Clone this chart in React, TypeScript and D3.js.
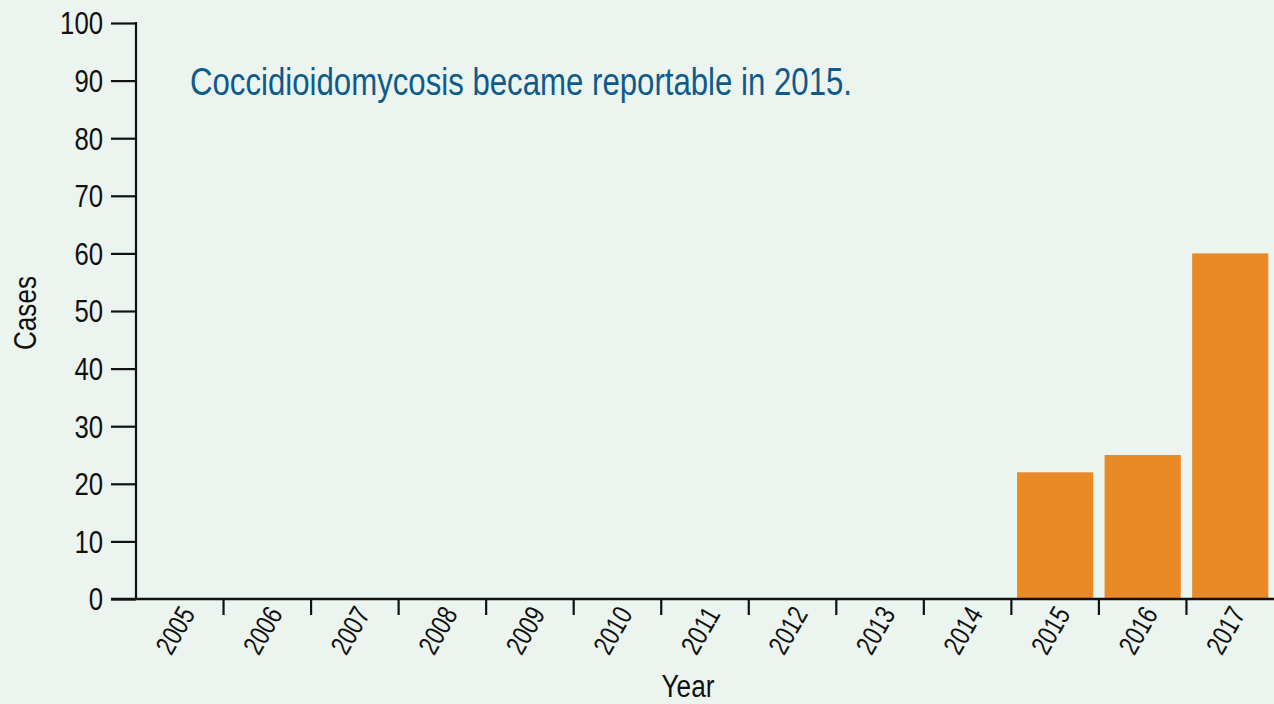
import { useEffect, useRef } from "react";
import * as d3 from "d3";

const years = ["2005", "2006", "2007", "2008", "2009", "2010", "2011", "2012", "2013", "2014", "2015", "2016", "2017"];
const cases = [0, 0, 0, 0, 0, 0, 0, 0, 0, 0, 22, 25, 60];
const yTicks = [0, 10, 20, 30, 40, 50, 60, 70, 80, 90, 100];
const note = "Coccidioidomycosis became reportable in 2015.";

// condensed look: Liberation Sans squeezed with textLength
const FONT = "'Liberation Sans', Arial, sans-serif";

const App = () => {
  const ref = useRef(null);

  useEffect(() => {
    const width = 1274;
    const height = 704;
    const left = 136;
    const top = 23;
    const bottom = 599;

    const root = d3.select(ref.current);
    root.selectAll("*").remove();

    const svg = root
      .append("svg")
      .attr("width", width)
      .attr("height", height)
      .style("display", "block")
      .style("font-family", FONT);

    svg.append("rect").attr("width", width).attr("height", height).attr("fill", "#ebf4ef");

    const x = d3.scaleBand().domain(years).range([left, width]).paddingInner(0.13).paddingOuter(0.065);
    const xb = d3.scaleBand().domain(years).range([left, width]);
    const y = d3.scaleLinear().domain([0, 100]).range([bottom, top]);

    // bars
    svg
      .append("g")
      .selectAll("rect")
      .data(years)
      .join("rect")
      .attr("x", (d) => x(d))
      .attr("width", x.bandwidth())
      .attr("y", (d, i) => y(cases[i]))
      .attr("height", (d, i) => bottom - y(cases[i]))
      .attr("fill", "#e98a26");

    // y axis
    const yAxis = d3.axisLeft(y).tickValues(yTicks).tickSize(25).tickPadding(8);
    const gy = svg.append("g").attr("transform", `translate(${left},0)`).call(yAxis);
    gy.select(".domain").remove();
    gy.selectAll(".tick line").attr("stroke", "#111").attr("stroke-width", 2.2);
    gy.selectAll(".tick text")
      .attr("font-size", 32)
      .attr("font-weight", 500)
      .attr("fill", "#111")
      .attr("font-family", FONT)
      .attr("dy", "0.34em")
      .attr("textLength", (d) => String(d).length * 14.3)
      .attr("lengthAdjust", "spacingAndGlyphs");
    gy.append("line").attr("x1", 0).attr("x2", 0).attr("y1", top - 1).attr("y2", bottom).attr("stroke", "#111").attr("stroke-width", 2.2);

    // x axis
    const gx = svg.append("g").attr("transform", `translate(0,${bottom})`);
    gx.append("line").attr("x1", 111).attr("x2", width).attr("stroke", "#111").attr("stroke-width", 2.6);
    gx.selectAll("line.bt")
      .data(years.slice(1))
      .join("line")
      .attr("class", "bt")
      .attr("x1", (d) => xb(d))
      .attr("x2", (d) => xb(d))
      .attr("y1", 0)
      .attr("y2", 16)
      .attr("stroke", "#111")
      .attr("stroke-width", 2.2);
    gx.selectAll("text")
      .data(years)
      .join("text")
      .attr("transform", (d) => `translate(${xb(d) + xb.bandwidth() / 2 + 16},${15}) rotate(-60)`)
      .attr("text-anchor", "end")
      .attr("font-size", 28)
      .attr("font-weight", 500)
      .attr("fill", "#111")
      .attr("textLength", 49)
      .attr("lengthAdjust", "spacingAndGlyphs")
      .text((d) => d);

    // titles
    svg
      .append("text")
      .attr("transform", `translate(36,313) rotate(-90)`)
      .attr("text-anchor", "middle")
      .attr("font-size", 31)
      .attr("font-weight", 500)
      .attr("fill", "#111")
      .attr("textLength", 74)
      .attr("lengthAdjust", "spacingAndGlyphs")
      .text("Cases");
    svg
      .append("text")
      .attr("x", 688)
      .attr("y", 697)
      .attr("text-anchor", "middle")
      .attr("font-size", 31)
      .attr("font-weight", 500)
      .attr("fill", "#111")
      .attr("textLength", 53)
      .attr("lengthAdjust", "spacingAndGlyphs")
      .text("Year");

    svg
      .append("text")
      .attr("x", 190)
      .attr("y", 95)
      .attr("font-size", 38)
      .attr("fill", "#0e5a8a")
      .attr("textLength", 662)
      .attr("lengthAdjust", "spacingAndGlyphs")
      .text(note);
  }, []);

  return <div ref={ref} style={{ position: "absolute", left: 0, top: 0 }} />;
};

export default App;
